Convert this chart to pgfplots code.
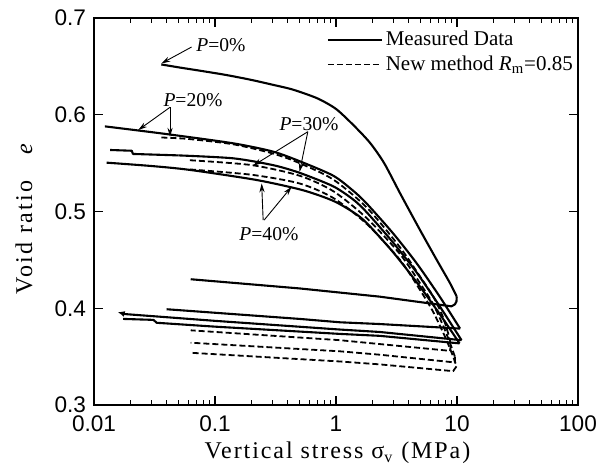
\documentclass[border=0pt]{standalone}
\usepackage{fontspec}
\setmainfont{Liberation Serif}
\setsansfont{Liberation Sans}
\usepackage{pgfplots}
\pgfplotsset{compat=1.18}
\usetikzlibrary{arrows.meta}
\pgfplotsset{
  meas/.style={black, line width=1.05pt, line join=round},
  model/.style={black, line width=0.9pt, dash pattern=on 3pt off 1.5pt, line join=round},
}
\tikzset{ann/.style={line width=0.45pt, -{Stealth[length=4.5pt,width=2.6pt]}}}
\begin{document}
\begin{tikzpicture}
\begin{axis}[
  scale only axis,
  width=242pt, height=193.5pt,
  xmode=log, xmin=0.01, xmax=100, ymin=0.3, ymax=0.7,
  xtick={0.01,0.1,1,10,100},
  xticklabels={\textsf{0.01},\textsf{0.1},\textsf{1},\textsf{10},\textsf{100}},
  ytick={0.3,0.4,0.5,0.6,0.7},
  yticklabels={\textsf{0.3},\textsf{0.4},\textsf{0.5},\textsf{0.6},\textsf{0.7}},
  minor y tick num=0,
  tick align=inside,
  major tick length=4.5pt, minor tick length=2.5pt,
  axis line style={line width=1pt},
  every tick/.style={black, line width=0.6pt},
  ticklabel style={font=\fontsize{11.3}{13}\selectfont},
  xticklabel style={yshift=-2pt},
  yticklabel style={xshift=-0.5pt},
  /pgf/number format/assume math mode=true,
  xlabel={\addfontfeatures{LetterSpace=8}Vertical stress σ\textsubscript{v} (MPa)},
  ylabel={\addfontfeatures{LetterSpace=10}Void ratio\ \ \ \textit{e}},
  every axis x label/.style={at={(rel axis cs:0.503,0)}, yshift=-24pt, anchor=center, font=\fontsize{12}{14}\selectfont},
  every axis y label/.style={at={(rel axis cs:0,0.483)}, xshift=-35pt, rotate=90, anchor=center, font=\fontsize{12}{14}\selectfont},
  legend style={draw=none, fill=none, at={(rel axis cs:0.48,0.975)}, anchor=north west,
    font=\fontsize{10.5}{12}\selectfont, row sep=0.5pt, inner sep=0pt,
    nodes={inner sep=1.5pt}},
  legend cell align=left,
  legend image code/.code={\draw[#1] (0pt,0pt) -- (27pt,0pt);},
  clip=false,
]
% P = 0 % measured: loading
\addplot[meas, smooth, tension=0.45] coordinates {(0.036,0.652)(0.05,0.649)(0.08,0.645)(0.125,0.641)(0.2,0.636)(0.3,0.631)(0.44,0.626)(0.7,0.617)(1.0,0.606)(1.4,0.589)(1.91,0.571)(2.5,0.550)(3.38,0.519)(4.94,0.481)(6.8,0.450)(8.75,0.426)(9.95,0.412)};
\addlegendentry{Measured Data}
% P = 20 % model: loading
\addplot[model, smooth, tension=0.45] coordinates {(0.036,0.5765)(0.06,0.575)(0.141,0.5695)(0.3,0.560)(0.5,0.550)(0.95,0.533)(1.8,0.504)(3.38,0.463)(5.0,0.432)(6.37,0.412)(7.6,0.392)(8.5,0.373)(8.9,0.362)};
\addlegendentry{New method \textit{R}\textsubscript{m}=0.85}
% P = 0 % measured: unloading
\addplot[meas, forget plot] coordinates {(9.95,0.412)(9.9,0.407)(9.6,0.404)(9.0,0.402)(2.3,0.412)(0.5,0.4205)(0.063,0.430)};
% P = 20 % model: unloading
\addplot[model, forget plot] coordinates {(8.9,0.362)(8.75,0.356)(2.3,0.363)(1.08,0.367)(0.063,0.3772)};
% P = 20 % measured
\addplot[meas, forget plot, smooth, tension=0.45] coordinates {(0.0123,0.588)(0.04,0.580)(0.141,0.5705)(0.3,0.562)(0.5,0.552)(0.95,0.537)(1.4,0.521)(1.8,0.508)(2.96,0.4775)(4.64,0.4465)(7.2,0.412)(10.6,0.379)};
\addplot[meas, forget plot] coordinates {(10.6,0.379)(2.3,0.3837)(1.08,0.3855)(0.5,0.389)(0.0398,0.399)};
% P = 30 % measured
\addplot[meas, forget plot] coordinates {(0.0136,0.5636)(0.0205,0.5628)(0.021,0.5595)(0.05,0.558)};
\addplot[meas, forget plot, smooth, tension=0.45] coordinates {(0.05,0.558)(0.141,0.555)(0.3,0.548)(0.5,0.540)(0.95,0.526)(1.4,0.512)(1.8,0.499)(2.96,0.468)(4.64,0.437)(7.2,0.402)(10.9,0.367)};
\addplot[meas, forget plot, -{Latex[length=3.5pt,width=3pt]}] coordinates {(10.9,0.367)(2.3,0.3755)(1.08,0.378)(0.1,0.387)(0.018,0.394)(0.0157,0.396)};
% P = 40 % measured
\addplot[meas, forget plot, smooth, tension=0.45] coordinates {(0.0127,0.5505)(0.03,0.547)(0.062,0.543)(0.22,0.5326)(0.533,0.522)(0.95,0.511)(1.4,0.499)(1.8,0.488)(2.96,0.458)(4.64,0.427)(7.2,0.394)(10.5,0.3637)};
\addplot[meas, forget plot] coordinates {(10.5,0.3637)(2.3,0.3715)(1.08,0.3735)(0.1,0.381)(0.033,0.385)(0.031,0.388)(0.0174,0.389)};
% P = 30 % model
\addplot[model, forget plot, smooth, tension=0.45] coordinates {(0.062,0.553)(0.2,0.548)(0.5,0.537)(0.95,0.521)(1.8,0.493)(3.38,0.456)(5.0,0.425)(6.37,0.404)(7.8,0.38)(9.0,0.36)(9.6,0.350)};
\addplot[model, forget plot] coordinates {(9.6,0.350)(9.6,0.344)(2.3,0.352)(1.08,0.3555)(0.063,0.3644)};
% P = 40 % model
\addplot[model, forget plot, smooth, tension=0.45] coordinates {(0.062,0.5435)(0.2,0.538)(0.5,0.529)(0.95,0.514)(1.8,0.487)(3.38,0.450)(5.0,0.418)(6.37,0.396)(8.0,0.37)(9.3,0.35)(9.9,0.340)};
\addplot[model, forget plot] coordinates {(9.9,0.340)(9.3,0.335)(2.3,0.342)(1.08,0.345)(0.063,0.354)};
% annotations
\node[font=\fontsize{9.8}{11}\selectfont] at (axis cs:0.112,0.672) {\textit{P}=0\%};
\draw[ann] (axis cs:0.064,0.670) -- (axis cs:0.036,0.653);
\node[font=\fontsize{9.8}{11}\selectfont] at (axis cs:0.0658,0.6152) {\textit{P}=20\%};
\draw[ann] (axis cs:0.0425,0.6077) -- (axis cs:0.0232,0.5842);
\draw[ann] (axis cs:0.0425,0.6077) -- (axis cs:0.0425,0.5773);
\node[font=\fontsize{9.8}{11}\selectfont] at (axis cs:0.598,0.590) {\textit{P}=30\%};
\draw[ann] (axis cs:0.585,0.5825) -- (axis cs:0.206,0.5473);
\draw[ann] (axis cs:0.585,0.5825) -- (axis cs:0.5,0.541);
\node[font=\fontsize{9.8}{11}\selectfont] at (axis cs:0.279,0.4767) {\textit{P}=40\%};
\draw[ann] (axis cs:0.25,0.4912) -- (axis cs:0.243,0.529);
\draw[ann] (axis cs:0.255,0.4912) -- (axis cs:0.43,0.5256);
\coordinate (bl) at (rel axis cs:0,0);
\coordinate (tr) at (rel axis cs:1,1);
\end{axis}
\pgfresetboundingbox
\path ([xshift=-47pt,yshift=-31.5pt]bl) rectangle ([xshift=15.5pt,yshift=9pt]tr);
\end{tikzpicture}
\end{document}
